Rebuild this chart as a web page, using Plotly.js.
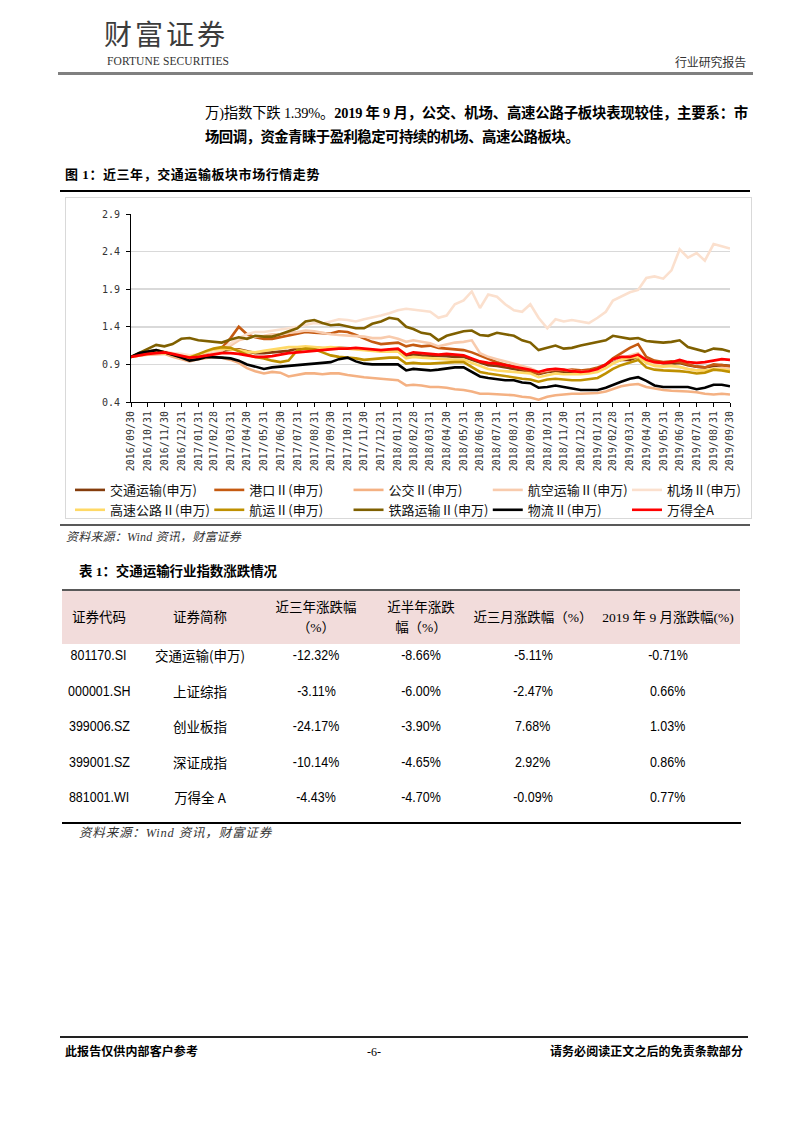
<!DOCTYPE html>
<html><head><meta charset="utf-8">
<script src="https://cdn.plot.ly/plotly-3.0.1.min.js"></script>
<style>
body{margin:0;width:802px;height:1133px;position:relative;background:#fff;font-family:"Noto Sans CJK SC",sans-serif;color:#000;overflow:hidden}
.a{position:absolute;white-space:nowrap}
.rule{position:absolute}
.ser{font-family:"Liberation Serif","Noto Sans CJK SC",serif}
.it{font-style:italic;font-family:"Liberation Serif","Noto Sans CJK SC",serif;color:#333}
.cell{position:absolute;text-align:center;white-space:nowrap}
.num{font-family:"Liberation Sans Narrow","Liberation Sans",sans-serif;font-size:14.5px}
.num span{display:inline-block;transform:scaleX(0.86);transform-origin:center}
.cjk{font-family:"Noto Sans CJK SC",sans-serif;font-size:13.5px}
</style></head><body>

<div class="a" style="left:104px;top:17px;font-size:28px;line-height:32px;color:#3c3c3c;letter-spacing:3px">财富证券</div>
<div class="a" data-w="122" style="left:107px;top:54px;font:11.5px/14px 'Liberation Serif',serif;color:#333">FORTUNE SECURITIES</div>
<div class="a" data-w="71" style="left:675px;top:54px;font-size:12px;line-height:16px;color:#333">行业研究报告</div>
<div class="rule" style="left:58px;top:72px;width:695px;height:3px;background:#808080"></div>

<div class="a ser" data-w="543" style="left:205px;top:103px;font-size:14.4px;line-height:20px"><span>万)指数下跌 1.39%。</span><b>2019 年 9 月，公交、机场、高速公路子板块表现较佳，主要系：市</b></div>
<div class="a ser" data-w="374" style="left:205px;top:127px;font-size:14.4px;line-height:20px;font-weight:bold">场回调，资金青睐于盈利稳定可持续的机场、高速公路板块。</div>

<div class="a ser" data-w="255" style="left:65px;top:166px;font-size:13px;line-height:18px;font-weight:bold">图 1：近三年，交通运输板块市场行情走势</div>
<div class="rule" style="left:60px;top:190px;width:690px;height:2px;background:#000"></div>
<div class="rule" style="left:65px;top:197px;width:687px;height:322px;border:1px solid #d9d9d9;box-sizing:border-box"></div>
<div class="rule" style="left:60px;top:524px;width:690px;height:2px;background:#595959"></div>
<div class="a it" data-w="175" style="left:66px;top:529px;font-size:12px;line-height:16px">资料来源：Wind 资讯，财富证券</div>

<div class="a ser" data-w="198" style="left:79px;top:563px;font-size:13.5px;line-height:18px;font-weight:bold">表 1：交通运输行业指数涨跌情况</div>
<div id="tbl"></div>
<div class="a it" data-w="193" style="left:79px;top:825px;font-size:12.5px;line-height:16px">资料来源：Wind 资讯，财富证券</div>

<div class="rule" style="left:60px;top:1036px;width:688px;height:2px;background:#222"></div>
<div class="a ser" data-w="133" style="left:65px;top:1044px;font-size:12px;line-height:16px;font-weight:bold">此报告仅供内部客户参考</div>
<div class="a ser" style="left:367px;top:1044px;font-size:12px;line-height:16px">-6-</div>
<div class="a ser" data-w="193" style="left:550px;top:1044px;font-size:12px;line-height:16px;font-weight:bold">请务必阅读正文之后的免责条款部分</div>

<div id="chart" style="position:absolute;left:0;top:198px;width:800px;height:360px"></div>

<script>
// ---------- chart data ----------
const dates = ['2016-09-30','2016-10-15','2016-10-31','2016-11-15','2016-11-30','2016-12-15','2016-12-31','2017-01-15','2017-01-31','2017-02-15','2017-02-28','2017-03-15','2017-03-31','2017-04-15','2017-04-30','2017-05-15','2017-05-31','2017-06-15','2017-06-30','2017-07-15','2017-07-31','2017-08-15','2017-08-31','2017-09-15','2017-09-30','2017-10-15','2017-10-31','2017-11-15','2017-11-30','2017-12-15','2017-12-31','2018-01-15','2018-01-31','2018-02-15','2018-02-28','2018-03-15','2018-03-31','2018-04-15','2018-04-30','2018-05-15','2018-05-31','2018-06-15','2018-06-30','2018-07-15','2018-07-31','2018-08-15','2018-08-31','2018-09-15','2018-09-30','2018-10-15','2018-10-31','2018-11-15','2018-11-30','2018-12-15','2018-12-31','2019-01-15','2019-01-31','2019-02-15','2019-02-28','2019-03-15','2019-03-31','2019-04-15','2019-04-30','2019-05-15','2019-05-31','2019-06-15','2019-06-30','2019-07-15','2019-07-31','2019-08-15','2019-08-31','2019-09-15','2019-09-30'];

const tickDates = ['2016-09-30','2016-10-31','2016-11-30','2016-12-31','2017-01-31','2017-02-28','2017-03-31','2017-04-30','2017-05-31','2017-06-30','2017-07-31','2017-08-31','2017-09-30','2017-10-31','2017-11-30','2017-12-31','2018-01-31','2018-02-28','2018-03-31','2018-04-30','2018-05-31','2018-06-30','2018-07-31','2018-08-31','2018-09-30','2018-10-31','2018-11-30','2018-12-31','2019-01-31','2019-02-28','2019-03-31','2019-04-30','2019-05-31','2019-06-30','2019-07-31','2019-08-31','2019-09-30'];

const yTicks = [0.4, 0.9, 1.4, 1.9, 2.4, 2.9];

const seriesNames = ['交通运输(申万)','港口Ⅱ(申万)','公交Ⅱ(申万)','航空运输Ⅱ(申万)','机场Ⅱ(申万)','高速公路Ⅱ(申万)','航运Ⅱ(申万)','铁路运输Ⅱ(申万)','物流Ⅱ(申万)','万得全A'];

const jiaotong = [1.00,1.03,1.05,1.07,1.06,1.03,1.01,0.99,1.01,1.04, 1.06,1.08,1.10,1.10,1.07,1.05,1.05,1.06,1.07,1.08, 1.11,1.12,1.12,1.11,1.11,1.12,1.12,1.11,1.10,1.09, 1.08,1.09,1.09,1.02,1.03,1.02,1.02,1.01,1.01,1.00, 1.00,0.96,0.92,0.89,0.88,0.86,0.84,0.82,0.81,0.77, 0.80,0.81,0.80,0.80,0.80,0.81,0.83,0.88,0.93,0.96, 0.96,1.00,0.93,0.90,0.90,0.91,0.92,0.89,0.87,0.86, 0.88,0.89,0.88];
const gangkou = [1.00,1.03,1.05,1.06,1.06,1.04,1.02,0.99,1.01,1.04, 1.06,1.12,1.25,1.40,1.30,1.26,1.24,1.24,1.26,1.28, 1.31,1.33,1.32,1.31,1.31,1.34,1.33,1.29,1.25,1.20, 1.17,1.18,1.19,1.14,1.16,1.14,1.15,1.12,1.11,1.10, 1.09,1.06,1.02,0.97,0.93,0.90,0.87,0.84,0.80,0.78, 0.81,0.83,0.82,0.83,0.82,0.83,0.86,0.90,0.98,1.05, 1.12,1.17,1.00,0.95,0.93,0.94,0.93,0.90,0.87,0.86, 0.90,0.89,0.87];
const gongjiao = [1.00,1.02,1.03,1.04,1.04,1.00,0.97,0.94,0.97,0.99, 1.00,0.99,0.96,0.92,0.85,0.81,0.78,0.80,0.79,0.74, 0.76,0.78,0.78,0.77,0.78,0.78,0.76,0.75,0.73,0.72, 0.71,0.71,0.69,0.62,0.63,0.62,0.60,0.60,0.59,0.57, 0.56,0.54,0.51,0.51,0.50,0.49,0.49,0.47,0.46,0.43, 0.47,0.49,0.50,0.51,0.51,0.51,0.52,0.54,0.57,0.61, 0.63,0.64,0.60,0.58,0.56,0.55,0.55,0.54,0.53,0.51, 0.50,0.51,0.50];
const hangkong = [1.00,1.02,1.04,1.05,1.06,1.03,1.00,0.98,1.00,1.02, 1.05,1.08,1.15,1.22,1.25,1.27,1.28,1.30,1.30,1.32, 1.33,1.35,1.34,1.32,1.30,1.29,1.28,1.27,1.27,1.25, 1.25,1.27,1.24,1.20,1.22,1.20,1.18,1.14,1.16,1.19, 1.20,1.22,1.05,1.00,0.97,0.94,0.90,0.88,0.85,0.80, 0.82,0.84,0.83,0.82,0.80,0.80,0.82,0.85,0.92,0.97, 1.02,1.05,0.95,0.90,0.88,0.88,0.86,0.84,0.82,0.80, 0.84,0.85,0.84];
const jichang = [1.00,1.03,1.05,1.06,1.07,1.05,1.04,1.02,1.03,1.06, 1.08,1.10,1.18,1.25,1.30,1.33,1.33,1.35,1.36,1.38, 1.40,1.42,1.45,1.44,1.47,1.50,1.49,1.47,1.50,1.52, 1.55,1.58,1.62,1.64,1.63,1.62,1.60,1.52,1.55,1.70, 1.75,1.87,1.65,1.83,1.80,1.70,1.62,1.60,1.70,1.52, 1.38,1.50,1.47,1.49,1.47,1.45,1.52,1.60,1.75,1.80, 1.86,1.89,2.05,2.07,2.04,2.15,2.43,2.32,2.38,2.28, 2.50,2.47,2.44];
const gaosu = [1.00,1.02,1.04,1.06,1.05,1.03,1.01,1.00,1.03,1.07, 1.10,1.11,1.10,1.09,1.07,1.06,1.08,1.10,1.12,1.13, 1.13,1.14,1.13,1.12,1.13,1.12,1.11,1.10,1.09,1.08, 1.07,1.07,1.07,0.98,1.00,0.99,0.98,0.97,0.97,0.96, 0.96,0.92,0.87,0.84,0.82,0.81,0.80,0.79,0.78,0.73, 0.76,0.78,0.77,0.77,0.77,0.78,0.80,0.85,0.91,0.96, 0.99,1.00,0.92,0.88,0.87,0.88,0.87,0.84,0.82,0.82, 0.84,0.83,0.82];
const hangyun = [1.00,1.04,1.07,1.09,1.06,1.03,1.00,0.99,1.04,1.08, 1.11,1.13,1.12,1.07,1.03,1.00,0.98,0.95,0.93,0.95, 1.09,1.11,1.10,1.06,1.02,1.00,0.99,0.98,0.96,0.97, 0.98,0.99,0.99,0.91,0.92,0.91,0.91,0.92,0.93,0.93, 0.93,0.86,0.80,0.78,0.76,0.75,0.73,0.71,0.70,0.67, 0.70,0.71,0.70,0.69,0.69,0.70,0.72,0.78,0.84,0.89, 0.93,0.96,0.86,0.83,0.82,0.82,0.81,0.80,0.78,0.79, 0.83,0.82,0.80];
const tielu = [1.00,1.05,1.10,1.16,1.14,1.17,1.24,1.25,1.22,1.21, 1.20,1.19,1.23,1.26,1.24,1.28,1.27,1.27,1.30,1.34, 1.38,1.47,1.49,1.45,1.42,1.43,1.40,1.38,1.38,1.44, 1.47,1.52,1.50,1.40,1.37,1.32,1.30,1.22,1.28,1.31, 1.34,1.35,1.29,1.28,1.32,1.30,1.28,1.22,1.19,1.09, 1.12,1.15,1.11,1.12,1.15,1.17,1.19,1.22,1.28,1.26, 1.24,1.25,1.21,1.20,1.19,1.20,1.22,1.13,1.10,1.07, 1.11,1.10,1.07];
const wuliu = [1.00,1.05,1.07,1.09,1.06,1.03,0.99,0.95,0.97,1.00, 1.00,0.99,0.98,0.95,0.90,0.87,0.84,0.86,0.87,0.88, 0.90,0.90,0.91,0.92,0.93,0.97,0.99,0.94,0.91,0.90, 0.90,0.89,0.90,0.82,0.84,0.83,0.82,0.83,0.85,0.86, 0.86,0.80,0.74,0.72,0.70,0.69,0.69,0.66,0.65,0.59, 0.60,0.62,0.60,0.58,0.56,0.56,0.56,0.59,0.63,0.67, 0.71,0.73,0.68,0.62,0.60,0.60,0.61,0.60,0.57,0.59, 0.63,0.63,0.61];
const wandeA = [1.00,1.02,1.04,1.05,1.06,1.04,1.01,0.99,1.00,1.02, 1.04,1.05,1.05,1.04,1.02,1.00,1.00,1.01,1.03,1.05, 1.06,1.07,1.08,1.09,1.10,1.11,1.11,1.12,1.11,1.10, 1.09,1.10,1.11,1.03,1.06,1.05,1.04,1.03,1.04,1.03, 1.02,0.98,0.94,0.92,0.91,0.89,0.87,0.85,0.83,0.80, 0.83,0.84,0.83,0.81,0.80,0.81,0.84,0.90,0.97,1.00, 1.00,1.03,0.96,0.93,0.92,0.93,0.96,0.93,0.92,0.93, 0.95,0.97,0.96];

// ---------- table data ----------
const tableHeader = ['证券代码','证券简称','近三年涨跌幅<br>（%）','近半年涨跌<br>幅（%）','近三月涨跌幅（%）','2019 年 9 月涨跌幅(%)'];
const codes  = ['801170.SI','000001.SH','399006.SZ','399001.SZ','881001.WI'];
const names  = ['交通运输(申万)','上证综指','创业板指','深证成指','万得全 A'];
const chg3y  = ['-12.32%','-3.11%','-24.17%','-10.14%','-4.43%'];
const chg6m  = ['-8.66%','-6.00%','-3.90%','-4.65%','-4.70%'];
const chg3m  = ['-5.11%','-2.47%','7.68%','2.92%','-0.09%'];
const chgSep = ['-0.71%','0.66%','1.03%','0.86%','0.77%'];

// ---------- chart ----------
const seriesValues = [jiaotong, gangkou, gongjiao, hangkong, jichang, gaosu, hangyun, tielu, wuliu, wandeA];
const colors = ['#843C0C','#C55A11','#F4B183','#F8CBAD','#FBE0CE','#FFD966','#BF9000','#7F6000','#000000','#FF0000'];

const traces = seriesNames.map((n, i) => ({
  type: 'scatter', mode: 'lines', name: n,
  x: dates, y: seriesValues[i],
  line: {color: colors[i], width: 2.6},
  legendgroup: 'col' + (i % 5),
  legendwidth: 94.25,
  hoverinfo: 'skip'
}));

const tickFont = {family: 'DejaVu Sans Mono, monospace', size: 10, color: '#333'};
const layout = {
  width: 800, height: 360,
  margin: {l: 131, r: 70, t: 16, b: 156},
  paper_bgcolor: 'rgba(0,0,0,0)', plot_bgcolor: 'rgba(0,0,0,0)',
  showlegend: true,
  hovermode: false,
  legend: {
    orientation: 'h', traceorder: 'grouped', tracegroupgap: 0,
    x: -0.1018, xanchor: 'left', y: -0.388, yanchor: 'top',
    font: {family: 'Noto Sans CJK SC, sans-serif', size: 13, color: '#111'},
    itemwidth: 30, bgcolor: 'rgba(0,0,0,0)', borderwidth: 0
  },
  xaxis: {
    type: 'date', range: [tickDates[0], tickDates[tickDates.length - 1]],
    tickmode: 'array', tickvals: tickDates,
    ticktext: tickDates.map(d => d.replace(/-/g, '/')),
    tickangle: -90, tickfont: tickFont,
    showline: true, linecolor: '#000', linewidth: 1,
    ticks: 'outside', ticklen: 4, tickcolor: '#000',
    showgrid: false, zeroline: false, automargin: false
  },
  yaxis: {
    range: [0.4, 2.9], tickmode: 'array', tickvals: yTicks,
    ticktext: yTicks.map(v => v.toFixed(1)),
    tickfont: tickFont,
    showline: true, linecolor: '#000', linewidth: 1,
    ticks: 'outside', ticklen: 4, tickcolor: '#000', ticklabelstandoff: 4,
    showgrid: true, gridcolor: '#d9d9d9', gridwidth: 1.5,
    zeroline: false, automargin: false
  }
};
Plotly.newPlot('chart', traces, layout, {staticPlot: true, displayModeBar: false});

// ---------- table ----------
const colL = [62, 136, 264, 368, 474, 596];
const colW = [74, 128, 104, 106, 118, 144];
const tbl = document.getElementById('tbl');
function add(html, style, cls) {
  const d = document.createElement('div');
  d.className = cls || 'cell';
  d.setAttribute('style', style);
  d.innerHTML = html;
  tbl.appendChild(d);
  return d;
}
add('', 'left:62px;top:589px;width:678px;height:2px;background:#595959', 'rule');
add('', 'left:62px;top:591px;width:678px;height:53px;background:#F2DCDB', 'rule');
tableHeader.forEach((h, c) => {
  add(h, `left:${colL[c]}px;width:${colW[c]}px;top:591px;height:53px;display:flex;align-items:center;justify-content:center;line-height:20px;font-size:13.5px;font-family:'Liberation Serif','Noto Sans CJK SC',serif`);
});
const rowsCols = [codes, names, chg3y, chg6m, chg3m, chgSep];
for (let r = 0; r < codes.length; r++) {
  rowsCols.forEach((col, c) => {
    const cls = c === 1 ? 'cell cjk' : 'cell num';
    const html = c === 1 ? col[r] : '<span>' + col[r] + '</span>';
    add(html, `left:${colL[c]}px;width:${colW[c]}px;top:${644 + r * 35.5}px;line-height:22px`, cls);
  });
}
add('', 'left:62px;top:822px;width:679px;height:2px;background:#000', 'rule');

// ---------- fit text widths ----------
function fitAll() {
  document.querySelectorAll('[data-w]').forEach(el => {
    el.style.letterSpacing = '0px';
    const w = el.getBoundingClientRect().width;
    const n = el.textContent.length;
    const t = parseFloat(el.getAttribute('data-w'));
    el.style.letterSpacing = ((t - w) / n) + 'px';
  });
}
fitAll();
if (document.fonts && document.fonts.ready) document.fonts.ready.then(fitAll);
</script>
</body></html>
